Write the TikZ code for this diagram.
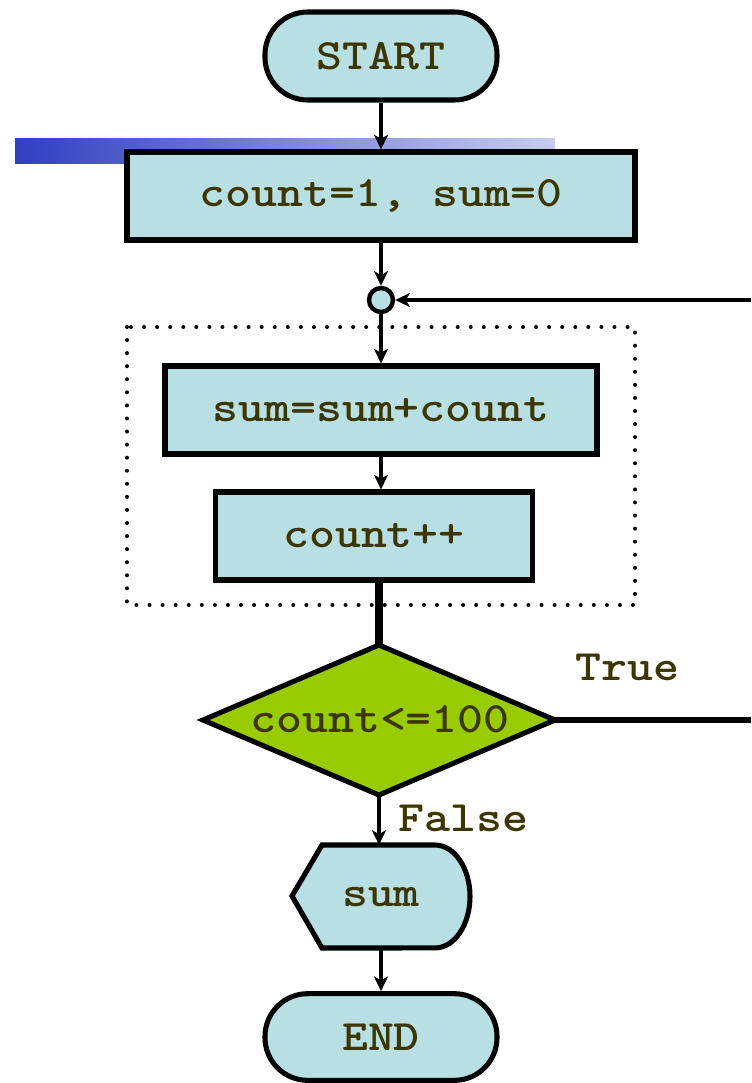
\documentclass[tikz,border=0pt]{standalone}
\usepackage{fontspec}
\newfontfamily\cour[Extension=.otf, UprightFont=lmmono10-regular, BoldFont=lmmonolt10-bold, FakeStretch=1.14]{lmmono10-regular}
\usetikzlibrary{arrows.meta}
\definecolor{boxfill}{RGB}{184,224,228}
\definecolor{dfill}{RGB}{153,204,0}
\definecolor{txt}{RGB}{62,54,0}
\tikzset{
  flowbox/.style={draw=black, line width=3.8pt, fill=boxfill, inner sep=0pt, text=txt, font=\cour\bfseries\fontsize{32.5}{36}\selectfont},
  term/.style={flowbox, rounded corners=32pt},
  plain/.style={inner sep=0pt, text=txt, font=\cour\bfseries\fontsize{32.5}{36}\selectfont},
  conn/.style={line width=3.3pt, -{Stealth[length=11pt, width=10.5pt, inset=3pt]}},
}
\begin{document}
\begin{tikzpicture}[x=0.75pt, y=-0.75pt]
\useasboundingbox (0,0) rectangle (751,1083);
% slide artefact bar
\shade[left color={rgb,255:red,48;green,64;blue,192}, right color={rgb,255:red,200;green,204;blue,240}] (15,138) rectangle (555,163);
% dotted loop body
\draw[line width=3pt, line cap=round, dash pattern=on 0pt off 9.8pt] (127,327) rectangle (635,605);
% nodes
\node[term, minimum width=174pt, minimum height=66pt] (start) at (381,56) {START};
\node[flowbox, minimum width=381pt, minimum height=66pt] (init) at (381,196) {count=1, sum=0};
\node[draw=black, line width=3.3pt, fill=boxfill, circle, inner sep=0pt, minimum size=18pt] (join) at (381,300) {};
\node[flowbox, minimum width=324pt, minimum height=66pt] (add) at (381,410) {sum=sum+count};
\node[flowbox, minimum width=238pt, minimum height=66pt] (inc) at (374,536) {count++};
% decision
\coordinate (dtop) at (379,645);
\coordinate (dright) at (555,720);
\coordinate (dbot) at (379,795);
\coordinate (dleft) at (203,720);
\draw[line width=3.8pt, fill=dfill, line join=miter] (dleft) -- (dtop) -- (dright) -- (dbot) -- cycle;
\node[plain] (cond) at (380,719) {count<=100};
% display
\draw[line width=3.8pt, fill=boxfill] (292,896) -- (322,845) -- (435,845) arc[start angle=90, end angle=-90, x radius=26.25pt, y radius=38.6pt] -- (322,948) -- cycle;
\node[plain, minimum width=133pt, minimum height=77pt] (out) at (381,896.5) {sum};
\node[term, minimum width=174pt, minimum height=65pt] (end) at (381,1037) {END};
% right edge points
\coordinate (rtop) at (751,300);
\coordinate (rbot) at (751,720);
% connectors
\draw[conn] (start.south) -- (init.north);
\draw[conn] (init.south) -- (join.north);
\draw[conn] (join.south) -- (add.north);
\draw[conn] (add.south) -- (add.south |- inc.north);
\draw[line width=6pt] (inc.south -| dtop) -- (dtop);
\draw[line width=4.5pt] (dright) -- (rbot);
\draw[conn] (rtop) -- (join.east);
\draw[conn] (dbot) -- (dbot |- out.north);
\draw[conn] (out.south) -- (end.north);
% labels
\node[plain, anchor=west] (tlab) at (575,667) {True};
\node[plain, anchor=west] (flab) at (398,818) {False};
\end{tikzpicture}
\end{document}
